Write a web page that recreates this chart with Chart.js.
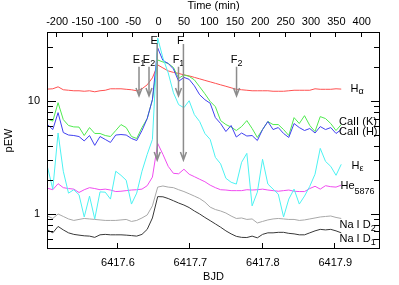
<!DOCTYPE html>
<html>
<head>
<meta charset="utf-8">
<script src="https://cdn.jsdelivr.net/npm/chart.js@4"></script>
<style>
  html, body { margin: 0; padding: 0; background: #fff; }
</style>
</head>
<body>
<canvas id="myChart" width="399" height="285"></canvas>
<script>
// curve di larghezza equivalente (pEW) durante il flare

const bjd = [6417.5029, 6417.5101, 6417.5174, 6417.5246, 6417.5318, 6417.5391, 6417.5463, 6417.5535, 6417.5608, 6417.5680,
  6417.5753, 6417.5825, 6417.5897, 6417.5970, 6417.6042, 6417.6114, 6417.6187, 6417.6259, 6417.6332, 6417.6404,
  6417.6476, 6417.6549, 6417.6621, 6417.6694, 6417.6766, 6417.6838, 6417.6911, 6417.6983, 6417.7055, 6417.7128,
  6417.7200, 6417.7273, 6417.7345, 6417.7417, 6417.7490, 6417.7562, 6417.7634, 6417.7707, 6417.7779, 6417.7852,
  6417.7924, 6417.7996, 6417.8069, 6417.8141, 6417.8213, 6417.8286, 6417.8358, 6417.8431, 6417.8503, 6417.8575,
  6417.8648, 6417.8720, 6417.8792, 6417.8865, 6417.8937, 6417.9010, 6417.9082];

const hAlpha = [12.75, 12.83, 13.36, 12.58, 12.45, 12.32, 12.32, 12.20, 12.32, 12.07,
  12.32, 12.45, 12.83, 12.83, 12.83, 12.70, 12.58, 12.32, 12.83, 13.91,
  16.03, 20.86, 19.63, 18.47, 17.92, 17.56, 17.03, 16.69, 16.19, 15.71,
  15.23, 14.78, 14.34, 13.91, 13.50, 13.09, 12.70, 12.58, 12.45, 12.32,
  12.32, 12.32, 12.32, 12.20, 12.20, 12.20, 12.32, 12.45, 12.45, 12.45,
  12.45, 12.83, 12.70, 12.70, 12.70, 12.83, 12.75];

const caK = [6.92, 6.64, 9.66, 6.85, 6.07, 5.90, 5.88, 4.95, 5.82, 5.16,
  5.16, 4.95, 4.85, 5.48, 6.19, 5.82, 4.85, 4.66, 5.82, 6.99,
  10.27, 23.08, 22.16, 21.50, 19.83, 15.87, 17.03, 16.52, 15.39, 13.36,
  11.59, 9.92, 8.91, 6.71, 6.19, 5.88, 5.48, 5.94, 6.71, 5.71,
  4.76, 5.59, 6.58, 6.19, 6.19, 5.59, 4.95, 7.13, 6.32, 7.42,
  6.07, 5.37, 7.28, 6.99, 6.32, 5.48, 6.19];

const caH = [6.19, 5.59, 7.89, 5.26, 5.00, 4.95, 4.85, 4.43, 4.95, 4.05,
  4.85, 4.57, 4.30, 5.00, 5.05, 5.00, 4.66, 4.47, 5.48, 6.99,
  10.27, 29.43, 22.85, 21.50, 19.24, 14.94, 16.19, 15.55, 13.63, 11.36,
  10.27, 9.56, 7.13, 6.32, 5.37, 6.07, 4.80, 5.21, 4.90, 4.95,
  4.47, 5.59, 6.58, 5.59, 5.82, 5.16, 4.76, 6.32, 5.82, 5.48,
  5.71, 5.21, 5.94, 5.59, 5.82, 5.16, 5.59];

const hEps = [2.59, 1.66, 5.21, 2.39, 1.53, 1.64, 1.48, 0.941, 1.44, 0.904,
  1.57, 1.56, 1.355, 2.39, 2.20, 1.99, 1.224, 1.53, 2.39, 3.37,
  4.57, 36.04, 24.03, 17.74, 11.83, 9.28, 8.73, 10.06, 7.58, 6.58,
  5.16, 4.57, 3.17, 2.78, 2.07, 1.91, 1.84, 2.87, 3.44, 1.18,
  1.56, 3.05, 1.84, 1.66, 1.50, 0.941, 1.355, 1.66, 1.224, 1.44,
  1.76, 2.25, 3.81, 2.92, 2.64, 2.20, 2.75];

const he5876 = [1.69, 1.64, 1.855, 1.71, 1.68, 1.66, 1.55, 1.64, 1.71, 1.68,
  1.64, 1.66, 1.63, 1.58, 1.59, 1.61, 1.63, 1.64, 1.66, 1.78,
  2.12, 4.21, 3.37, 2.64, 2.29, 2.27, 2.49, 2.25, 2.14, 2.03,
  1.93, 1.80, 1.71, 1.64, 1.63, 1.61, 1.61, 1.61, 1.64, 1.63,
  1.64, 1.66, 1.63, 1.61, 1.59, 1.61, 1.63, 1.59, 1.58, 1.58,
  1.68, 1.76, 1.66, 1.78, 1.745, 1.73, 1.80];

const naD2 = [0.960, 0.913, 1.0, 0.951, 0.904, 0.877, 0.895, 0.913, 0.904, 0.895,
  0.886, 0.877, 0.877, 0.877, 0.886, 0.895, 0.859, 0.877, 0.922, 0.980,
  1.18, 1.73, 1.77, 1.73, 1.71, 1.64, 1.58, 1.51, 1.44, 1.37,
  1.275, 1.15, 1.095, 1.063, 1.02, 0.960, 0.913, 0.922, 0.895, 0.904,
  0.833, 0.859, 0.886, 0.904, 0.913, 0.904, 0.895, 0.895, 0.877, 0.886,
  0.904, 0.922, 0.941, 0.951, 0.960, 0.932, 0.913];

const naD1 = [0.723, 0.681, 0.776, 0.723, 0.681, 0.660, 0.650, 0.641, 0.637, 0.621,
  0.654, 0.660, 0.654, 0.654, 0.654, 0.650, 0.644, 0.637, 0.660, 0.731,
  0.922, 1.425, 1.42, 1.37, 1.31, 1.25, 1.20, 1.14, 1.063, 1.0,
  0.932, 0.873, 0.817, 0.764, 0.709, 0.667, 0.634, 0.621, 0.619, 0.637,
  0.615, 0.660, 0.681, 0.681, 0.688, 0.688, 0.674, 0.667, 0.654, 0.654,
  0.681, 0.709, 0.731, 0.723, 0.731, 0.709, 0.681];

// eventi del flare (frecce)
const eventBjd = [6417.6291, 6417.6429, 6417.6542, 6417.6836, 6417.6904, 6417.7637];
const eventLetters = ['E', 'E', 'E', 'F', 'F', 'F'];
const eventSubs = ['1', '2', '', '1', '', '2'];

// tick
const bjdTicks = [6417.6, 6417.7, 6417.8, 6417.9];
const timeTicks = [-200, -150, -100, -50, 0, 50, 100, 150, 200, 250, 300, 350, 400];
const yTicks = [0.6, 0.7, 0.8, 0.9, 1, 2, 3, 4, 5, 6, 7, 8, 9, 10, 20, 30];
const yLabelled = [1, 10];

Chart.defaults.font.family = "'Liberation Sans', Arial, Helvetica, sans-serif";
Chart.defaults.font.size = 11;
Chart.defaults.color = '#000';

function serie(vals, colore) {
  return {
    data: bjd.map((x, i) => ({ x: x, y: vals[i] })),
    borderColor: colore,
    borderWidth: 1,
    pointRadius: 0,
    tension: 0,
    fill: false,
    xAxisID: 'x',
    yAxisID: 'y'
  };
}

// testo con pedice
function scriviSub(ctx, main, sub, x, y, dySub, allinea) {
  ctx.font = "11px 'Liberation Sans', Arial, sans-serif";
  const w1 = ctx.measureText(main).width;
  ctx.font = "9px 'Liberation Sans', Arial, sans-serif";
  const w2 = sub ? ctx.measureText(sub).width : 0;
  let x0 = x;
  if (allinea === 'center') x0 = x - (w1 + w2) / 2;
  ctx.font = "11px 'Liberation Sans', Arial, sans-serif";
  ctx.fillText(main, x0, y);
  if (sub) {
    ctx.font = "9px 'Liberation Sans', Arial, sans-serif";
    ctx.fillText(sub, x0 + w1, y + dySub);
  }
}

const annotazioni = {
  id: 'annotazioni',
  afterDatasetsDraw(chart) {
    const { ctx, chartArea: a, scales } = chart;
    const x = scales.x, y = scales.y;
    ctx.save();
    ctx.strokeStyle = '#8c8c8c';
    ctx.lineWidth = 1.5;
    ctx.fillStyle = '#000';
    ctx.textBaseline = 'alphabetic';
    ctx.textAlign = 'left';
    eventBjd.forEach((t, i) => {
      const px = x.getPixelForValue(t);
      const lungo = eventSubs[i] === '';
      const y0 = y.getPixelForValue(lungo ? 31.9 : 20.15);
      const y1 = y.getPixelForValue(lungo ? 3.0 : 11.1);
      ctx.beginPath();
      ctx.moveTo(px, y0);
      ctx.lineTo(px, y1);
      ctx.moveTo(px - 3, y1 - 8);
      ctx.lineTo(px, y1);
      ctx.lineTo(px + 3, y1 - 8);
      ctx.stroke();
      if (lungo) {
        scriviSub(ctx, eventLetters[i], '', px - 3, a.top + 11, 0, 'center');
      } else {
        scriviSub(ctx, eventLetters[i], eventSubs[i], px, a.top + 30, 3, 'center');
      }
    });

    // nomi delle righe a destra
    const etichette = [
      { main: 'H', sub: '\u03b1', px: 350.5, v: 12.07, dy: 2.5 },
      { main: 'CaII (K)', sub: '', px: 339, v: 6.19, dy: 0 },
      { main: 'CaII (H)', sub: '', px: 339, v: 5.05, dy: 0 },
      { main: 'H', sub: '\u03b5', px: 351.5, v: 2.51, dy: 2.5 },
      { main: 'He', sub: '5876', px: 340.5, v: 1.66, dy: 4.5 },
      { main: 'Na I D', sub: '2', px: 339.5, v: 0.746, dy: 2.5 },
      { main: 'Na I D', sub: '1', px: 339.5, v: 0.562, dy: 2.5 }
    ];
    etichette.forEach(e => {
      scriviSub(ctx, e.main, e.sub, e.px, y.getPixelForValue(e.v), e.dy, 'left');
    });
    ctx.restore();
  }
};

const cornice = {
  id: 'cornice',
  afterDraw(chart) {
    const { ctx, chartArea: a, scales } = chart;
    ctx.save();
    ctx.strokeStyle = '#000';
    ctx.lineWidth = 1;
    ctx.strokeRect(a.left - 0.5, a.top - 0.5, a.right - a.left + 1, a.bottom - a.top + 1);
    ctx.beginPath();
    bjdTicks.forEach(v => {
      const px = Math.round(scales.x.getPixelForValue(v)) - 0.5;
      ctx.moveTo(px, a.bottom);
      ctx.lineTo(px, a.bottom - 5);
    });
    timeTicks.forEach(v => {
      const px = Math.round(scales.x2.getPixelForValue(v)) - 0.5;
      ctx.moveTo(px, a.top);
      ctx.lineTo(px, a.top + 4);
    });
    yTicks.forEach(v => {
      const py = Math.round(scales.y.getPixelForValue(v)) + 0.5;
      const l = yLabelled.includes(v) ? 8 : 5;
      ctx.moveTo(a.left, py);
      ctx.lineTo(a.left + l, py);
      ctx.moveTo(a.right, py);
      ctx.lineTo(a.right - l, py);
    });
    ctx.stroke();
    ctx.restore();
  }
};

const ctx = document.getElementById('myChart');

new Chart(ctx, {
  type: 'line',
  data: {
    datasets: [
      serie(hEps, '#4cf2f2'),
      serie(caH, '#4040f0'),
      serie(caK, '#50ea50'),
      serie(hAlpha, '#ff5050'),
      serie(he5876, '#f04cf0'),
      serie(naD2, '#a8a8a8'),
      serie(naD1, '#383838')
    ]
  },
  options: {
    responsive: false,
    animation: false,
    devicePixelRatio: 1,
    layout: { padding: { left: 0, right: 20, top: 0, bottom: 0 } },
    plugins: {
      legend: { display: false },
      tooltip: { enabled: false }
    },
    scales: {
      x: {
        type: 'linear',
        position: 'bottom',
        min: 6417.5035,
        max: 6417.9603,
        grid: { display: false, drawTicks: false },
        border: { display: false },
        afterBuildTicks: s => { s.ticks = bjdTicks.map(v => ({ value: v })); },
        afterFit: s => { s.height = 37; },
        ticks: { padding: 8, autoSkip: false, maxRotation: 0, minRotation: 0, callback: v => v.toFixed(1) },
        title: { display: true, text: 'BJD', padding: { top: 0, bottom: 1 } }
      },
      x2: {
        type: 'linear',
        position: 'top',
        min: -218,
        max: 434,
        grid: { display: false, drawTicks: false },
        border: { display: false },
        afterBuildTicks: s => { s.ticks = timeTicks.map(v => ({ value: v })); },
        afterFit: s => { s.height = 33; },
        ticks: { padding: 4, autoSkip: false, maxRotation: 0, minRotation: 0, callback: v => String(v) },
        title: { display: true, text: 'Time (min)', padding: { top: -1, bottom: 0 } }
      },
      y: {
        type: 'logarithmic',
        position: 'left',
        min: 0.5,
        max: 40,
        grid: { display: false, drawTicks: false },
        border: { display: false },
        afterBuildTicks: s => { s.ticks = yTicks.map(v => ({ value: v })); },
        afterFit: s => { s.width = 48; },
        ticks: { padding: 8, autoSkip: false, callback: v => (yLabelled.includes(v) ? String(v) : '') },
        title: { display: true, text: 'pEW', padding: { top: 2, bottom: 0 } }
      }
    }
  },
  plugins: [annotazioni, cornice]
});
</script>
</body>
</html>
